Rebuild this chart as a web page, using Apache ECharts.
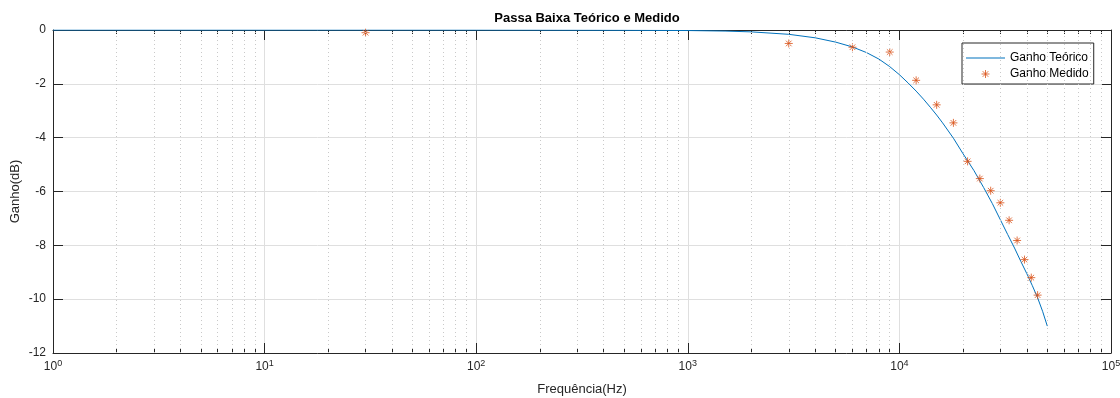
<!DOCTYPE html>
<html>
<head>
<meta charset="utf-8">
<script src="https://cdn.jsdelivr.net/npm/echarts@6/dist/echarts.min.js"></script>
<style>
  html, body { margin: 0; padding: 0; background: #fff; }
  #grafico { width: 1120px; height: 398px; }
</style>
</head>
<body>
<div id="grafico"></div>
<script>
// curva teorica (Hz, dB)
var freqTeorico = [1, 100, 500, 1000, 1500, 2000, 3000, 4000, 5000, 6000, 7000, 8000, 9000, 10000,
  11000, 12000, 13000, 14000, 15000, 16000, 18000, 20000, 22500, 25000, 27500, 30000, 32500,
  35000, 37500, 40000, 42500, 45000, 47500, 50000];
var ganhoTeorico = [0, 0, -0.01, -0.02, -0.04, -0.07, -0.16, -0.29, -0.45, -0.63, -0.84, -1.08, -1.36, -1.66,
  -1.97, -2.27, -2.57, -2.87, -3.16, -3.45, -4.02, -4.6, -5.22, -5.85, -6.45, -7.05, -7.6,
  -8.1, -8.6, -9.05, -9.5, -9.95, -10.45, -11.0];

// pontos medidos
var freqMedido = [30, 3000, 6000, 9000, 12000, 15000, 18000, 21000, 24000, 27000, 30000, 33000, 36000, 39000, 42000, 45000];
var ganhoMedido = [-0.1, -0.5, -0.64, -0.82, -1.87, -2.78, -3.45, -4.88, -5.52, -5.97, -6.42, -7.07, -7.82, -8.53, -9.2, -9.85];

// ticks
var ticksY = [0, -2, -4, -6, -8, -10, -12];
var ticksMenores = [];
for (var k = 0; k < 5; k++) {
  for (var m = 2; m <= 9; m++) ticksMenores.push(m * Math.pow(10, k));
}

var corEixo = '#262626';
var fonte = '"Liberation Sans", Arial, sans-serif';
var asterisco = 'path://M0,-5L0,5M-5,0L5,0M-3.5,-3.5L3.5,3.5M-3.5,3.5L3.5,-3.5';

function par(xs, ys) {
  return xs.map(function (x, i) { return [x, ys[i]]; });
}

function eixoX(pos, principal) {
  return {
    type: 'log',
    logBase: 10,
    min: 1,
    max: 100000,
    splitNumber: 5,
    position: pos,
    axisLine: { show: principal, onZero: false, lineStyle: { color: corEixo, width: 1 } },
    axisTick: principal
      ? { show: true, inside: true, length: 10, lineStyle: { color: corEixo } }
      : { show: true, inside: true, length: 4, customValues: ticksMenores, lineStyle: { color: corEixo } },
    axisLabel: { show: false },
    splitLine: { show: false }
  };
}

var eixoBaixo = eixoX('bottom', true);
eixoBaixo.splitLine = { show: true, lineStyle: { color: '#dfdfdf', width: 1 } };
eixoBaixo.name = 'Frequência(Hz)';
eixoBaixo.nameLocation = 'middle';
eixoBaixo.nameGap = 30;
eixoBaixo.nameMoveOverlap = false;
eixoBaixo.nameTextStyle = { color: corEixo, fontSize: 13, fontFamily: fonte };
eixoBaixo.axisLabel = {
  show: true,
  margin: 6,
  color: corEixo,
  fontFamily: fonte,
  formatter: function (v) {
    return '{b|10}{s|' + Math.round(Math.log10(v)) + '}';
  },
  rich: {
    b: { fontSize: 12, color: corEixo, fontFamily: fonte },
    s: { fontSize: 9, color: corEixo, fontFamily: fonte, verticalAlign: 'bottom', padding: [0, 0, 7, 0] }
  }
};

function eixoY(pos, principal) {
  return {
    type: 'value',
    min: ticksY[ticksY.length - 1],
    max: ticksY[0],
    interval: 2,
    position: pos,
    axisLine: { show: true, onZero: false, lineStyle: { color: corEixo, width: 1 } },
    axisTick: { show: true, inside: true, length: 10, lineStyle: { color: corEixo } },
    axisLabel: principal
      ? { show: true, color: corEixo, fontSize: 12, fontFamily: fonte, margin: 7 }
      : { show: false },
    splitLine: principal ? { show: true, lineStyle: { color: '#dfdfdf', width: 1 } } : { show: false }
  };
}

var eixoEsq = eixoY('left', true);
eixoEsq.name = 'Ganho(dB)';
eixoEsq.nameLocation = 'middle';
eixoEsq.nameGap = 31;
eixoEsq.nameMoveOverlap = false;
eixoEsq.nameTextStyle = { color: corEixo, fontSize: 13, fontFamily: fonte };

var chart = echarts.init(document.getElementById('grafico'));
var option = {
  backgroundColor: '#fff',
  animation: false,
  title: {
    text: 'Passa Baixa Teórico e Medido',
    left: 582,
    top: 7,
    textAlign: 'center',
    textStyle: { color: '#000', fontSize: 13, fontWeight: 'bold', fontFamily: fonte }
  },
  grid: { left: 53, right: 9, top: 30, bottom: 45, containLabel: false, outerBoundsMode: 'none' },
  legend: {
    orient: 'vertical',
    left: 962,
    top: 43,
    padding: [9, 5, 4, 4],
    itemGap: 4,
    itemWidth: 39,
    itemHeight: 8,
    itemTextGap: 4,
    backgroundColor: '#fff',
    borderColor: corEixo,
    borderWidth: 1,
    borderRadius: 0,
    textStyle: { color: '#000', fontSize: 12, fontFamily: fonte },
    data: [
      { name: 'Ganho Teórico', icon: 'path://M0,0H40V1H0Z', itemStyle: { color: '#0072BD', borderWidth: 0 } },
      { name: 'Ganho Medido', icon: asterisco, itemStyle: { color: '#D95319', borderColor: '#D95319', borderWidth: 1 } }
    ]
  },
  xAxis: [eixoBaixo, eixoX('bottom', false), eixoX('top', true), eixoX('top', false)],
  yAxis: [eixoEsq, eixoY('right', false)],
  series: [
    {
      name: 'grade menor',
      type: 'line',
      data: [],
      z: 1,
      silent: true,
      markLine: {
        silent: true,
        symbol: 'none',
        label: { show: false },
        lineStyle: { color: '#c9c9c9', type: [1, 3], width: 1 },
        data: ticksMenores.map(function (v) { return { xAxis: v }; })
      }
    },
    {
      name: 'Ganho Teórico',
      type: 'line',
      data: par(freqTeorico, ganhoTeorico),
      symbol: 'none',
      showSymbol: false,
      z: 3,
      lineStyle: { color: '#0072BD', width: 1 },
      itemStyle: { color: '#0072BD' }
    },
    {
      name: 'Ganho Medido',
      type: 'scatter',
      data: par(freqMedido, ganhoMedido),
      symbol: asterisco,
      symbolSize: 8,
      z: 4,
      itemStyle: { color: '#D95319', borderColor: '#D95319', borderWidth: 1 }
    }
  ]
};
chart.setOption(option);
</script>
</body>
</html>
